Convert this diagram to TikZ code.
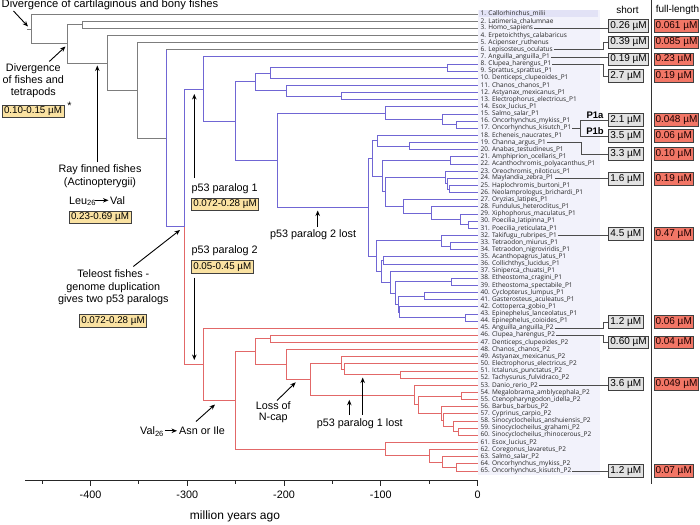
\documentclass[tikz,border=0pt]{standalone}
\usepackage{fontspec}
\setmainfont{Liberation Sans}
\newfontfamily\leaffont{Open Sans}
\usetikzlibrary{arrows.meta,calc}
\definecolor{ogc}{RGB}{125,125,125}
\definecolor{p1c}{RGB}{112,102,212}
\definecolor{p2c}{RGB}{226,104,104}
\definecolor{rangec}{RGB}{250,226,162}
\definecolor{shortc}{RGB}{226,226,226}
\definecolor{fullc}{RGB}{242,118,102}
\definecolor{labbg}{RGB}{242,242,251}
\definecolor{labonebg}{RGB}{226,226,246}
\newcommand\tn[4]{\path let \p1=(#3), \p2=(#4) in (#2pt,{0.5*(\y1+\y2)}) coordinate (#1);}
\begin{document}
\begin{tikzpicture}[x=1pt,y=-1pt,
  og/.style={draw=ogc,line width=0.75pt},
  p1e/.style={draw=p1c,line width=0.75pt},
  p2e/.style={draw=p2c,line width=0.75pt},
  leaflab/.style={anchor=west,inner xsep=1pt,inner ysep=0pt,font=\leaffont\fontsize{6.5}{7}\selectfont,text=black!85},
  ann/.style={font=\fontsize{10.8}{13}\selectfont,inner sep=0pt,align=center},
  arr/.style={-{Stealth[length=5.5pt,width=4.5pt]},line width=0.9pt},
  rangebox/.style={draw=black!75,fill=rangec,line width=0.6pt,font=\fontsize{9.8}{11}\selectfont,inner xsep=2pt,inner ysep=0pt,minimum height=12.5pt},
  shortbox/.style={anchor=west,draw=black!75,fill=shortc,line width=0.6pt,font=\fontsize{10}{12}\selectfont,inner xsep=1.8pt,inner ysep=0pt,minimum height=12.5pt},
  fullbox/.style={anchor=west,draw=black!75,fill=fullc,line width=0.6pt,font=\fontsize{10}{12}\selectfont,inner xsep=1.2pt,inner ysep=0pt,minimum height=12.5pt,text=black!90!red},
  conn/.style={draw=black!70,line width=0.6pt},
  hdr/.style={font=\fontsize{10}{12}\selectfont,inner sep=0pt},
  axisl/.style={draw=black!85,line width=0.8pt}]
\useasboundingbox (0,0) rectangle (700,524);
% label background
\fill[labbg] (478,10) rectangle (600,475);
\fill[labonebg] (479,10.5) rectangle (598,17.5);
% leaves
\foreach \i/\nm in {1/Callorhinchus\_milii,2/Latimeria\_chalumnae,3/Homo\_sapiens,4/Erpetoichthys\_calabaricus,5/Acipenser\_ruthenus,6/Lepisosteus\_oculatus,7/Anguilla\_anguilla\_P1,8/Clupea\_harengus\_P1,9/Sprattus\_sprattus\_P1,10/Denticeps\_clupeoides\_P1,11/Chanos\_chanos\_P1,12/Astyanax\_mexicanus\_P1,13/Electrophorus\_electricus\_P1,14/Esox\_lucius\_P1,15/Salmo\_salar\_P1,16/Oncorhynchus\_mykiss\_P1,17/Oncorhynchus\_kisutch\_P1,18/Echeneis\_naucrates\_P1,19/Channa\_argus\_P1,20/Anabas\_testudineus\_P1,21/Amphiprion\_ocellaris\_P1,22/Acanthochromis\_polyacanthus\_P1,23/Oreochromis\_niloticus\_P1,24/Maylandia\_zebra\_P1,25/Haplochromis\_burtoni\_P1,26/Neolamprologus\_brichardi\_P1,27/Oryzias\_latipes\_P1,28/Fundulus\_heteroclitus\_P1,29/Xiphophorus\_maculatus\_P1,30/Poecilia\_latipinna\_P1,31/Poecilia\_reticulata\_P1,32/Takifugu\_rubripes\_P1,33/Tetraodon\_miurus\_P1,34/Tetraodon\_nigroviridis\_P1,35/Acanthopagrus\_latus\_P1,36/Collichthys\_lucidus\_P1,37/Siniperca\_chuatsi\_P1,38/Etheostoma\_cragini\_P1,39/Etheostoma\_spectabile\_P1,40/Cyclopterus\_lumpus\_P1,41/Gasterosteus\_aculeatus\_P1,42/Cottoperca\_gobio\_P1,43/Epinephelus\_lanceolatus\_P1,44/Epinephelus\_coioides\_P1,45/Anguilla\_anguilla\_P2,46/Clupea\_harengus\_P2,47/Denticeps\_clupeoides\_P2,48/Chanos\_chanos\_P2,49/Astyanax\_mexicanus\_P2,50/Electrophorus\_electricus\_P2,51/Ictalurus\_punctatus\_P2,52/Tachysurus\_fulvidraco\_P2,53/Danio\_rerio\_P2,54/Megalobrama\_amblycephala\_P2,55/Ctenopharyngodon\_idella\_P2,56/Barbus\_barbus\_P2,57/Cyprinus\_carpio\_P2,58/Sinocyclocheilus\_anshuiensis\_P2,59/Sinocyclocheilus\_grahami\_P2,60/Sinocyclocheilus\_rhinocerous\_P2,61/Esox\_lucius\_P2,62/Coregonus\_lavaretus\_P2,63/Salmo\_salar\_P2,64/Oncorhynchus\_mykiss\_P2,65/Oncorhynchus\_kisutch\_P2}{
  \coordinate (L\i) at (477.5,{14+(\i-1)*7.14});
  \node[leaflab] (l\i) at (479.5,{14+(\i-1)*7.14}) {\i. \nm};
}
% internal nodes, P1
\tn{A89}{447}{L8}{L9}
\tn{A810}{270.7}{A89}{L10}
\tn{A1213}{341}{L12}{L13}
\tn{A1113}{286}{L11}{A1213}
\tn{OTO1}{255}{A810}{A1113}
\tn{S1617}{456.7}{L16}{L17}
\tn{S1517}{442.3}{L15}{S1617}
\tn{S1417}{385.7}{L14}{S1517}
\tn{B1920}{409.3}{L19}{L20}
\tn{B1820}{377.3}{L18}{B1920}
\tn{B2122}{450.7}{L21}{L22}
\tn{C2526}{449.3}{L25}{L26}
\tn{C2426}{447.7}{L24}{C2526}
\tn{C2326}{445}{L23}{C2426}
\tn{D3031}{468.3}{L30}{L31}
\tn{D2931}{460}{L29}{D3031}
\tn{D2831}{431}{L28}{D2931}
\tn{D2731}{403.3}{L27}{D2831}
\tn{E2331}{385}{C2326}{D2731}
\tn{E2131}{382.3}{B2122}{E2331}
\tn{E1831}{372.3}{B1820}{E2131}
\tn{F3334}{450.7}{L33}{L34}
\tn{F3234}{441.7}{L32}{F3334}
\tn{G3536}{383.3}{L35}{L36}
\tn{G3839}{451.7}{L38}{L39}
\tn{G4041}{424}{L40}{L41}
\tn{G4344}{465}{L43}{L44}
\tn{G4244}{399.5}{L42}{G4344}
\tn{G4044}{398.3}{G4041}{G4244}
\tn{G3844}{395}{G3839}{G4044}
\tn{G3744}{390}{L37}{G3844}
\tn{G3544}{381}{G3536}{G3744}
\tn{F3244}{376.7}{F3234}{G3544}
\tn{PERC}{368.3}{E1831}{F3244}
\tn{EUT}{277.3}{S1417}{PERC}
\tn{CLU1}{235}{OTO1}{EUT}
\tn{P1}{203.3}{L7}{CLU1}
% internal nodes, P2
\tn{H4647}{270.7}{L46}{L47}
\tn{I5152}{400}{L51}{L52}
\tn{I5052}{344.3}{L50}{I5152}
\tn{I4952}{341}{L49}{I5052}
\tn{J5455}{461}{L54}{L55}
\tn{J5960}{458.3}{L59}{L60}
\tn{J5860}{453.3}{L58}{J5960}
\tn{J5760}{443.3}{L57}{J5860}
\tn{J5660}{441}{L56}{J5760}
\tn{J5460}{418.3}{J5455}{J5660}
\tn{J5360}{414.3}{L53}{J5460}
\tn{K4960}{310}{I4952}{J5360}
\tn{K4860}{286}{L48}{K4960}
\tn{K4660}{255}{H4647}{K4860}
\tn{M6465}{456.7}{L64}{L65}
\tn{M6365}{442.7}{L63}{M6465}
\tn{M6265}{429.3}{L62}{M6365}
\tn{M6165}{385.7}{L61}{M6265}
\tn{CLU2}{235}{K4660}{M6165}
\tn{P2}{203.3}{L45}{CLU2}
% outgroups
\tn{TEL}{184}{P1}{P2}
\tn{N166}{166}{L6}{TEL}
\tn{N137}{137}{L5}{N166}
\tn{ACT}{107}{L4}{N137}
\tn{TET}{82}{L2}{L3}
\tn{BONY}{67.3}{TET}{ACT}
\tn{ROOT}{31}{L1}{BONY}
\coordinate (R0) at ($(ROOT)+(-4,0)$);
% edges
\draw[og] (R0) -- (ROOT);
\foreach \a/\b in {ROOT/L1,ROOT/BONY,BONY/TET,BONY/ACT,TET/L2,TET/L3,ACT/L4,ACT/N137,N137/L5,N137/N166}
  \draw[og] (\a) |- (\b);
\draw[p1e] (N166) |- (L6);
\draw[og] (L6 -| N166) -- (L6);
\draw[p1e] (N166) |- (TEL);
\draw[p1e] (TEL) |- (P1);
\draw[p2e] (TEL) |- (P2);
\foreach \a/\b in {P1/L7,P1/CLU1,CLU1/OTO1,CLU1/EUT,OTO1/A810,OTO1/A1113,A810/A89,A810/L10,A89/L8,A89/L9,A1113/L11,A1113/A1213,A1213/L12,A1213/L13,EUT/S1417,EUT/PERC,S1417/L14,S1417/S1517,S1517/L15,S1517/S1617,S1617/L16,S1617/L17,PERC/E1831,PERC/F3244,E1831/B1820,E1831/E2131,B1820/L18,B1820/B1920,B1920/L19,B1920/L20,E2131/B2122,E2131/E2331,B2122/L21,B2122/L22,E2331/C2326,E2331/D2731,C2326/L23,C2326/C2426,C2426/L24,C2426/C2526,C2526/L25,C2526/L26,D2731/L27,D2731/D2831,D2831/L28,D2831/D2931,D2931/L29,D2931/D3031,D3031/L30,D3031/L31,F3244/F3234,F3244/G3544,F3234/L32,F3234/F3334,F3334/L33,F3334/L34,G3544/G3536,G3544/G3744,G3536/L35,G3536/L36,G3744/L37,G3744/G3844,G3844/G3839,G3844/G4044,G3839/L38,G3839/L39,G4044/G4041,G4044/G4244,G4041/L40,G4041/L41,G4244/L42,G4244/G4344,G4344/L43,G4344/L44}
  \draw[p1e] (\a) |- (\b);
\foreach \a/\b in {P2/L45,P2/CLU2,CLU2/K4660,CLU2/M6165,K4660/H4647,K4660/K4860,H4647/L46,H4647/L47,K4860/L48,K4860/K4960,K4960/I4952,K4960/J5360,I4952/L49,I4952/I5052,I5052/L50,I5052/I5152,I5152/L51,I5152/L52,J5360/L53,J5360/J5460,J5460/J5455,J5460/J5660,J5455/L54,J5455/L55,J5660/L56,J5660/J5760,J5760/L57,J5760/J5860,J5860/L58,J5860/J5960,J5960/L59,J5960/L60,M6165/L61,M6165/M6265,M6265/L62,M6265/M6365,M6365/L63,M6365/M6465,M6465/L64,M6465/L65}
  \draw[p2e] (\a) |- (\b);
% header and value boxes
\node[hdr] (hs) at (627.5,10) {short};
\node[hdr] (hf) at (677.5,10) {full-length};
\coordinate (dv1) at (651.7,0);
\coordinate (dv2) at (651.7,484);
\draw[black!80,line width=0.7pt] (dv1) -- (dv2);
\foreach \n/\y/\s/\f in {1/26/0.26/0.061,2/42.5/0.39/0.085,3/59.5/0.19/0.23,4/76/2.7/0.19,5/120/2.1/0.048,6/136/3.5/0.06,7/154/3.3/0.10,8/178.7/1.6/0.19,9/234/4.5/0.47,10/322/1.2/0.06,11/342.5/0.60/0.04,12/384/3.6/0.049,13/471/1.2/0.07}{
  \node[shortbox] (s\n) at (608.3,\y) {\s{} µM};
  \node[fullbox] (f\n) at (654,\y) {\f{} µM};
}
\draw[conn] (l3.east) -- (l3.east -| s1.west);
\draw[conn] (l6.east) -| ([xshift=-5pt]s2.west) -- (s2.west);
\draw[conn] (l7.east) -- (l7.east -| s3.west);
\draw[conn] (l8.east) -| ([xshift=-5pt]s4.west) -- (s4.west);
\coordinate (k5) at (580,120);
\coordinate (k6) at (580,136);
\draw[conn] (l17.east) -- (l17.east -| k5);
\draw[conn] (s5.west) -- (k5) -- (k6) -- (s6.west);
\node[font=\bfseries\fontsize{9.5}{11}\selectfont,anchor=south,inner sep=0.5pt] (p1a) at (595,119.6) {P1a};
\node[font=\bfseries\fontsize{9.5}{11}\selectfont,anchor=south,inner sep=0.5pt] (p1b) at (595,135.6) {P1b};
\draw[conn] (l19.east) -| ([xshift=-26.6pt]s7.west) -- (s7.west);
\draw[conn] (l24.east) -- (l24.east -| s8.west);
\draw[conn] (l32.east) -- (l32.east -| s9.west);
\draw[conn] (l45.east) -| ([xshift=-5pt]s10.west) -- (s10.west);
\draw[conn] (l46.east) -| ([xshift=-5pt]s11.west) -- (s11.west);
\draw[conn] (l53.east) -- (l53.east -| s12.west);
\draw[conn] (l65.east) -- (l65.east -| s13.west);
% annotations
\node[ann,anchor=base west,font=\fontsize{11.2}{13}\selectfont] (tdiv1) at (1.5,8) {Divergence of cartilaginous and bony fishes};
\coordinate (a1s) at (13.5,11); \coordinate (a1e) at (28,26.5);
\draw[arr] (a1s) -- (a1e);
\node[ann,font=\fontsize{10.8}{12.2}\selectfont] (tdiv2) at (33.3,80.5) {Divergence\\of fishes and\\tetrapods};
\coordinate (a2s) at (49.3,61.5); \coordinate (a2e) at (65.5,46.5);
\draw[arr] (a2s) -- (a2e);
\node[rangebox] (r1) at (33,111.3) {0.10-0.15 µM};
\node[ann] (star) at (69.5,106) {*};
\node[ann,font=\fontsize{10.8}{13.4}\selectfont] (tray) at (100,176) {Ray finned fishes\\(Actinopterygii)};
\coordinate (a3s) at (97.3,162); \coordinate (a3e) at (97.3,65.5);
\draw[arr] (a3s) -- (a3e);
\node[ann,anchor=base west] (leu) at (69,204) {Leu\textsubscript{26}};
\node[ann,anchor=base west] (val1) at (110,204) {Val};
\coordinate (a4s) at (95,200.3); \coordinate (a4e) at (108.5,200.3);
\draw[arr] (a4s) -- (a4e);
\node[rangebox] (r2) at (100,217.5) {0.23-0.69 µM};
\node[ann,font=\fontsize{10.8}{12.5}\selectfont] (ttel) at (113.3,287.5) {Teleost fishes -\\genome duplication\\gives two p53 paralogs};
\node[rangebox] (r3) at (113,320.8) {0.072-0.28 µM};
\coordinate (a5s) at (133.3,266.5); \coordinate (a5e) at (180,230);
\draw[arr] (a5s) -- (a5e);
\node[ann,anchor=west] (tp1) at (191.5,188.3) {p53 paralog 1};
\node[rangebox,anchor=west] (r4) at (191,204.5) {0.072-0.28 µM};
\coordinate (a6s) at (194.3,178); \coordinate (a6e) at (194.3,94);
\draw[arr] (a6s) -- (a6e);
\node[ann,anchor=west] (tp2) at (191.5,250.7) {p53 paralog 2};
\node[rangebox,anchor=west] (r5) at (191,267) {0.05-0.45 µM};
\coordinate (a7s) at (194.3,277.5); \coordinate (a7e) at (194.3,360);
\draw[arr] (a7s) -- (a7e);
\node[ann,anchor=west] (tp2l) at (270,234.3) {p53 paralog 2 lost};
\coordinate (a8s) at (317.7,227); \coordinate (a8e) at (317.7,210.5);
\draw[arr] (a8s) -- (a8e);
\node[ann,font=\fontsize{10.8}{11}\selectfont] (tnc) at (273.3,412.3) {Loss of\\N-cap};
\coordinate (a9s) at (277,400.5); \coordinate (a9e) at (295.7,382.3);
\draw[arr] (a9s) -- (a9e);
\node[ann,anchor=west] (tp1l) at (316.7,424) {p53 paralog 1 lost};
\coordinate (a10s) at (349.3,415); \coordinate (a10e) at (349.3,399.8);
\draw[arr] (a10s) -- (a10e);
\coordinate (a11s) at (362.7,415); \coordinate (a11e) at (362.7,377.5);
\draw[arr] (a11s) -- (a11e);
\node[ann,anchor=base west] (val2) at (140,434.5) {Val\textsubscript{26}};
\node[ann,anchor=base west] (asn) at (179,434.5) {Asn or Ile};
\coordinate (a12s) at (164.5,430.8); \coordinate (a12e) at (177,430.8);
\draw[arr] (a12s) -- (a12e);
\coordinate (a13s) at (196,421.5); \coordinate (a13e) at (215,404.5);
\draw[arr] (a13s) -- (a13e);
% axis
\coordinate (ax1) at (25,480); \coordinate (ax2) at (477.5,480);
\draw[axisl] (ax1) -- (ax2);
\foreach \t [count=\k] in {-400,-300,-200,-100,0}{
  \draw[axisl] ({477.5+0.9675*\t},480) -- ++(0,6);
  \node[ann] (tk\k) at ({477.5+0.9675*\t},494.5) {\t};
}
\foreach \t in {-450,-350,-250,-150,-50}
  \draw[axisl] ({477.5+0.9675*\t},480) -- ++(0,3.5);
\node[ann,font=\fontsize{12}{14}\selectfont] (xlab) at (235,516.5) {million years ago};
\end{tikzpicture}
\end{document}
